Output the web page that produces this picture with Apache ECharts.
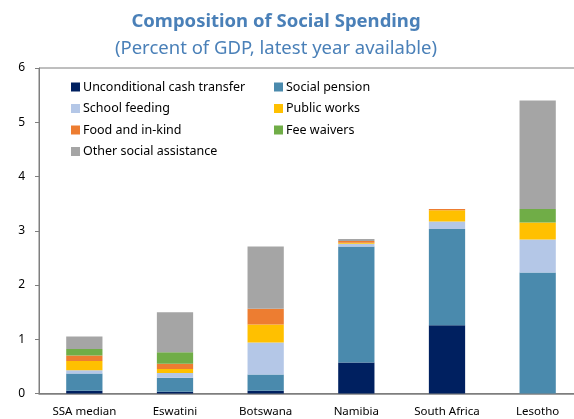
<!DOCTYPE html>
<html>
<head>
<meta charset="utf-8">
<script src="https://cdn.jsdelivr.net/npm/echarts@6/dist/echarts.min.js"></script>
<style>
  html, body { margin: 0; padding: 0; background: #fff; overflow: hidden; }
  #chart { width: 584px; height: 419px; }
</style>
</head>
<body>
<div id="chart"></div>
<script>
// Countries on the horizontal axis
const categories = ['SSA median', 'Eswatini', 'Botswana', 'Namibia', 'South Africa', 'Lesotho'];

// Spending by programme type, percent of GDP
const unconditionalCash = [0.05, 0.03, 0.05, 0.57, 1.26, 0.00];
const socialPension     = [0.32, 0.26, 0.30, 2.14, 1.77, 2.23];
const schoolFeeding     = [0.06, 0.09, 0.59, 0.05, 0.14, 0.61];
const publicWorks       = [0.17, 0.07, 0.33, 0.02, 0.21, 0.31];
const foodInKind        = [0.10, 0.10, 0.29, 0.03, 0.02, 0.00];
const feeWaivers        = [0.12, 0.21, 0.00, 0.00, 0.00, 0.25];
const otherAssistance   = [0.23, 0.74, 1.15, 0.04, 0.00, 2.00];

const yTicks = [0, 1, 2, 3, 4, 5, 6];

const FONT = '"Noto Sans", "Open Sans", sans-serif';

const seriesDefs = [
  { name: 'Unconditional cash transfer', data: unconditionalCash, color: '#002060' },
  { name: 'Social pension',              data: socialPension,     color: '#4a8aad' },
  { name: 'School feeding',              data: schoolFeeding,     color: '#b4c7e7' },
  { name: 'Public works',                data: publicWorks,       color: '#ffc000' },
  { name: 'Food and in-kind',            data: foodInKind,        color: '#ed7d31' },
  { name: 'Fee waivers',                 data: feeWaivers,        color: '#70ad47' },
  { name: 'Other social assistance',     data: otherAssistance,   color: '#a5a5a5' }
];

const legendStyle = {
  orient: 'vertical',
  itemWidth: 9,
  itemHeight: 9,
  itemGap: 7.5,
  icon: 'rect',
  textStyle: { fontFamily: FONT, fontSize: 12.5, color: '#000', lineHeight: 14, padding: [0, 0, 0, -2] }
};

const chart = echarts.init(document.getElementById('chart'), null, { renderer: 'canvas' });

chart.setOption({
  animation: false,
  backgroundColor: '#fff',
  title: [
    {
      text: 'Composition of Social Spending',
      left: 271, textAlign: 'center', top: 7,
      textStyle: { fontFamily: FONT, fontSize: 18.5, fontWeight: 'bold', color: '#4a80b8' }
    },
    {
      text: '(Percent of GDP, latest year available)',
      left: 271, textAlign: 'center', top: 34,
      textStyle: { fontFamily: FONT, fontSize: 18.5, fontWeight: 'normal', color: '#4a80b8' }
    }
  ],
  legend: [
    Object.assign({ left: 66, top: 75,
      data: ['Unconditional cash transfer', 'School feeding', 'Food and in-kind', 'Other social assistance'] }, legendStyle),
    Object.assign({ left: 269, top: 75,
      data: ['Social pension', 'Public works', 'Fee waivers'] }, legendStyle)
  ],
  grid: {
    left: 39, top: 68, right: 1, bottom: 25.5,
    show: true, borderColor: '#7f7f7f', borderWidth: 1, backgroundColor: 'transparent'
  },
  xAxis: {
    type: 'category',
    data: categories,
    axisLine: { lineStyle: { color: '#7f7f7f', width: 1.5 } },
    axisTick: { show: false },
    axisLabel: { fontFamily: FONT, fontSize: 11.5, color: '#000', margin: 12 }
  },
  yAxis: {
    type: 'value',
    min: yTicks[0], max: yTicks[yTicks.length - 1], interval: 1,
    axisLine: { show: true, lineStyle: { color: '#7f7f7f' } },
    axisTick: { show: true, length: 4, lineStyle: { color: '#7f7f7f' } },
    splitLine: { show: false },
    axisLabel: { fontFamily: FONT, fontSize: 12, color: '#000', margin: 14 }
  },
  series: seriesDefs.map(s => ({
    name: s.name,
    type: 'bar',
    stack: 'total',
    barWidth: '40%',
    data: s.data,
    itemStyle: { color: s.color }
  }))
});
</script>
</body>
</html>
